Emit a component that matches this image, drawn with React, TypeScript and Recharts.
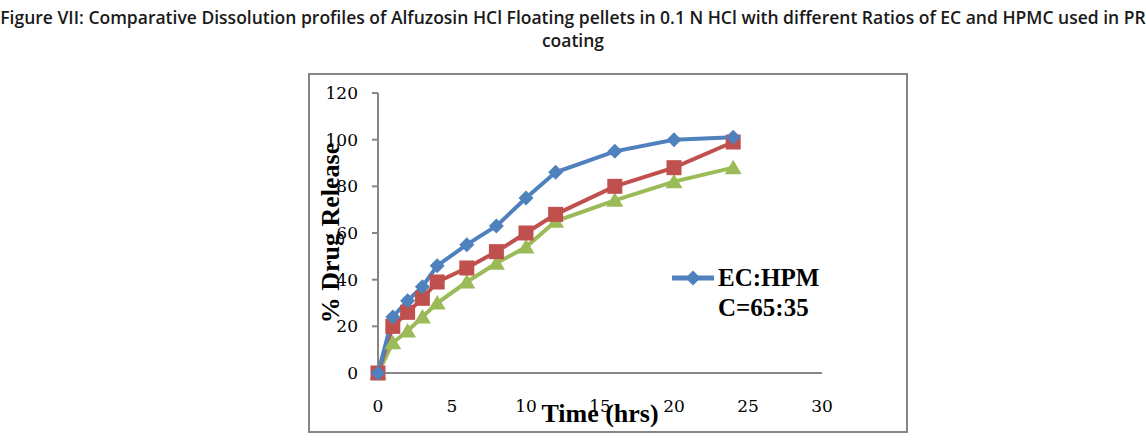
import React from 'react';
import { LineChart, Line, XAxis, YAxis, Legend } from 'recharts';

// time points (hrs) and % drug release for each EC:HPMC ratio
const hours = [0, 1, 2, 3, 4, 6, 8, 10, 12, 16, 20, 24];
const ratio6535 = [0, 24, 31, 37, 46, 55, 63, 75, 86, 95, 100, 101];
const ratio7030 = [0, 20, 26, 32, 39, 45, 52, 60, 68, 80, 88, 99];
const ratio7525 = [0, 13, 18, 24, 30, 39, 47, 54, 65, 74, 82, 88];
const xTicks = [0, 5, 10, 15, 20, 25, 30];
const yTicks = [0, 20, 40, 60, 80, 100, 120];

const data = hours.map((h, i) => ({
  time: h,
  r6535: ratio6535[i],
  r7030: ratio7030[i],
  r7525: ratio7525[i],
}));

const BLUE = '#4F81BD';
const RED = '#C0504D';
const GREEN = '#9BBB59';
const AXIS = '#868686';
const serif = '"Liberation Serif", "Times New Roman", serif';
const tickFont = '"DejaVu Serif", serif';

const diamond = (cx: number, cy: number, r: number) =>
  `M${cx},${cy - r}L${cx + r},${cy}L${cx},${cy + r}L${cx - r},${cy}Z`;

const DiamondDot = (p: any) => (
  <path key={`d${p.index}`} d={diamond(p.cx, p.cy, 7.5)} fill={BLUE} />
);
const SquareDot = (p: any) => (
  <rect key={`s${p.index}`} x={p.cx - 7.5} y={p.cy - 7.5} width={15} height={15} fill={RED} />
);
const TriangleDot = (p: any) => (
  <path
    key={`t${p.index}`}
    d={`M${p.cx},${p.cy - 8}L${p.cx + 8.5},${p.cy + 6.5}L${p.cx - 8.5},${p.cy + 6.5}Z`}
    fill={GREEN}
  />
);

const YLabel = ({ viewBox }: any) => {
  const cx = viewBox.x + 30;
  const cy = viewBox.y + 140;
  return (
    <text
      x={cx}
      y={cy}
      transform={`rotate(-90 ${cx} ${cy})`}
      textAnchor="middle"
      dominantBaseline="central"
      fontFamily={serif}
      fontWeight="bold"
      fontSize={26}
      fill="#000"
    >
      % Drug Release
    </text>
  );
};

const XLabel = ({ viewBox }: any) => (
  <text
    x={viewBox.x + viewBox.width / 2}
    y={viewBox.y + 40}
    textAnchor="middle"
    dominantBaseline="central"
    fontFamily={serif}
    fontWeight="bold"
    fontSize={26}
    fill="#000"
  >
    Time (hrs)
  </text>
);

// only the first entry is visible in the original (box is cut off)
const LegendBox = (props: any) => {
  const item = props.payload && props.payload.find((p: any) => p.dataKey === 'r6535');
  if (!item) return null;
  return (
    <div style={{ display: 'flex', alignItems: 'flex-start' }}>
      <svg width={46} height={20} style={{ marginTop: 5 }}>
        <line x1={2} y1={10} x2={44} y2={10} stroke={item.color} strokeWidth={5} />
        <path d={diamond(23, 10, 7.5)} fill={item.color} />
      </svg>
      <div
        style={{
          fontFamily: serif,
          fontWeight: 'bold',
          fontSize: 25,
          lineHeight: '30px',
          color: '#000',
          marginLeft: 2,
        }}
      >
        EC:HPM
        <br />
        C=65:35
      </div>
    </div>
  );
};

export default function App() {
  return (
    <div
      style={{
        position: 'absolute',
        left: 0,
        top: 0,
        width: 1146,
        height: 440,
        background: '#fff',
        overflow: 'hidden',
      }}
    >
      <div
        style={{
          position: 'absolute',
          left: 0,
          top: 6,
          width: 1146,
          textAlign: 'center',
          fontFamily: '"Open Sans", sans-serif',
          fontWeight: 600,
          fontSize: 17.5,
          lineHeight: '23px',
          color: '#1a1a1a',
          whiteSpace: 'nowrap',
        }}
      >
        Figure VII: Comparative Dissolution profiles of Alfuzosin HCl Floating pellets in 0.1 N HCl with different Ratios of EC and HPMC used in PR
        <br />
        coating
      </div>
      <div
        style={{
          position: 'absolute',
          left: 308,
          top: 73,
          width: 600,
          height: 360,
          boxSizing: 'border-box',
          border: `2px solid ${AXIS}`,
        }}
      />
      <div style={{ position: 'absolute', left: 300, top: 74 }}>
        <LineChart
          width={560}
          height={357}
          data={data}
          margin={{ top: 19, right: 38, bottom: 0, left: 0 }}
        >
          <XAxis
            type="number"
            dataKey="time"
            domain={[0, 30]}
            ticks={xTicks}
            interval={0}
            height={58}
            tickSize={0}
            tickMargin={27}
            axisLine={{ stroke: AXIS, strokeWidth: 2 }}
            tickLine={false}
            tick={{ fill: '#000', fontFamily: tickFont, fontSize: 17 }}
            label={<XLabel />}
          />
          <YAxis
            type="number"
            domain={[0, 120]}
            ticks={yTicks}
            interval={0}
            width={78}
            tickSize={6}
            tickMargin={14}
            axisLine={{ stroke: AXIS, strokeWidth: 2 }}
            tickLine={{ stroke: AXIS, strokeWidth: 2 }}
            tick={{ fill: '#000', fontFamily: tickFont, fontSize: 17 }}
            label={<YLabel />}
          />
          <Legend
            layout="horizontal"
            verticalAlign="middle"
            align="center"
            content={<LegendBox />}
            wrapperStyle={{ position: 'absolute', left: 370, top: 189, width: 160 }}
          />
          <Line
            dataKey="r7525"
            name="EC:HPMC=75:25"
            stroke={GREEN}
            strokeWidth={4}
            dot={TriangleDot}
            activeDot={false}
            isAnimationActive={false}
            legendType="triangle"
          />
          <Line
            dataKey="r7030"
            name="EC:HPMC=70:30"
            stroke={RED}
            strokeWidth={4}
            dot={SquareDot}
            activeDot={false}
            isAnimationActive={false}
            legendType="square"
          />
          <Line
            dataKey="r6535"
            name="EC:HPMC=65:35"
            stroke={BLUE}
            strokeWidth={4}
            dot={DiamondDot}
            activeDot={false}
            isAnimationActive={false}
            legendType="diamond"
          />
        </LineChart>
      </div>
    </div>
  );
}
